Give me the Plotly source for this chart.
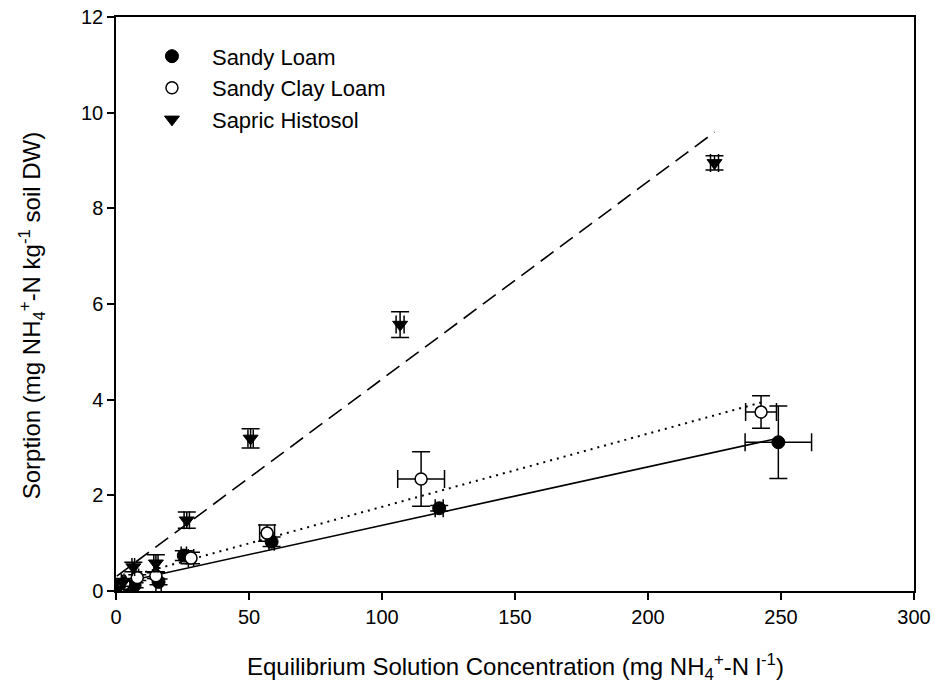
import plotly.graph_objects as go
import numpy as np

# Sandy Loam (filled circles)
loam_x = [0.5, 2.5, 7.0, 16.0, 25.5, 58.5, 121.5, 249.0]
loam_y = [0.0, 0.06, 0.12, 0.19, 0.74, 1.03, 1.73, 3.11]
loam_xerr = [0.3, 0.5, 0.5, 1.0, 1.0, 1.0, 1.5, 12.5]
loam_yerr = [0.05, 0.05, 0.05, 0.06, 0.10, 0.10, 0.06, 0.76]

# Sandy Clay Loam (open circles)
clay_x = [0.8, 3.0, 8.0, 15.0, 28.2, 56.8, 114.7, 242.5]
clay_y = [0.03, 0.15, 0.28, 0.32, 0.69, 1.21, 2.34, 3.74]
clay_xerr = [0.3, 0.5, 0.5, 0.8, 1.0, 2.8, 8.8, 5.8]
clay_yerr = [0.05, 0.05, 0.06, 0.06, 0.12, 0.17, 0.57, 0.34]

# Sapric Histosol (down triangles)
sapric_x = [0.3, 2.5, 6.5, 15.0, 26.6, 50.6, 106.8, 225.0]
sapric_y = [0.02, 0.18, 0.50, 0.58, 1.48, 3.19, 5.57, 8.95]
sapric_xerr = [0.3, 0.5, 0.5, 0.8, 1.0, 1.0, 1.5, 1.5]
sapric_yerr = [0.05, 0.08, 0.10, 0.18, 0.17, 0.20, 0.27, 0.15]

# Linear fits (intercept, slope)
loam_fit = (0.15, 0.01223)
clay_fit = (0.23, 0.0153)
sapric_fit = (0.30, 0.0413)

FONT = "Liberation Sans, Arial, sans-serif"

fig = go.Figure()


def fit_line(xs, fit, dash, width):
    xx = np.array([min(xs), max(xs)])
    yy = fit[0] + fit[1] * xx
    return go.Scatter(x=xx, y=yy, mode="lines", showlegend=False,
                      hoverinfo="skip",
                      line=dict(color="black", width=width, dash=dash))


fig.add_trace(fit_line(loam_x, loam_fit, "solid", 1.6))
fig.add_trace(fit_line(clay_x, clay_fit, "2px,5px", 2))
fig.add_trace(fit_line(sapric_x, sapric_fit, "16px,8px", 1.6))


def err(vals):
    return dict(type="data", array=vals, visible=True, color="black",
                thickness=1.5, width=9)


fig.add_trace(go.Scatter(
    x=loam_x, y=loam_y, mode="markers", name="Sandy Loam",
    error_x=err(loam_xerr), error_y=err(loam_yerr),
    marker=dict(symbol="circle", size=13, color="black",
                line=dict(color="black", width=1))))

fig.add_trace(go.Scatter(
    x=clay_x, y=clay_y, mode="markers", name="Sandy Clay Loam",
    error_x=err(clay_xerr), error_y=err(clay_yerr),
    marker=dict(symbol="circle", size=12, color="white",
                line=dict(color="black", width=1.5))))

fig.add_trace(go.Scatter(
    x=sapric_x, y=sapric_y, mode="markers", name="Sapric Histosol",
    error_x=err(sapric_xerr), error_y=err(sapric_yerr),
    marker=dict(symbol="triangle-down", size=13, color="black",
                line=dict(color="black", width=1))))

axis_common = dict(
    showline=True, linecolor="black", linewidth=1.5, mirror=True,
    ticks="outside", ticklen=7, tickwidth=1.5, tickcolor="black",
    showgrid=False, zeroline=False, automargin=False,
    tickfont=dict(family=FONT, size=20, color="black"),
)

fig.update_layout(
    width=935, height=693,
    margin=dict(l=116, r=21, t=17, b=102, autoexpand=False),
    paper_bgcolor="white", plot_bgcolor="white",
    font=dict(family=FONT, size=20, color="black"),
    xaxis=dict(range=[0, 300], tickvals=[0, 50, 100, 150, 200, 250, 300],
               **axis_common),
    yaxis=dict(range=[0, 12], tickvals=[0, 2, 4, 6, 8, 10, 12],
               **axis_common),
    legend=dict(x=0.02, y=0.968, xanchor="left", yanchor="top",
                bgcolor="rgba(0,0,0,0)", borderwidth=0, itemwidth=70,
                tracegroupgap=0,
                font=dict(family=FONT, size=22, color="black")),
    annotations=[
        dict(text="Equilibrium Solution Concentration (mg NH<sub>4</sub><sup>+</sup>-N l<sup>-1</sup>)",
             xref="paper", yref="paper", x=0.5, y=-0.132,
             xanchor="center", yanchor="middle", showarrow=False,
             font=dict(family=FONT, size=24, color="black")),
        dict(text="Sorption (mg NH<sub>4</sub><sup>+</sup>-N kg<sup>-1</sup> soil DW)",
             xref="paper", yref="paper", x=-0.105, y=0.479,
             xanchor="center", yanchor="middle", textangle=-90,
             showarrow=False,
             font=dict(family=FONT, size=24, color="black")),
    ],
)

fig.write_html("out.html")
